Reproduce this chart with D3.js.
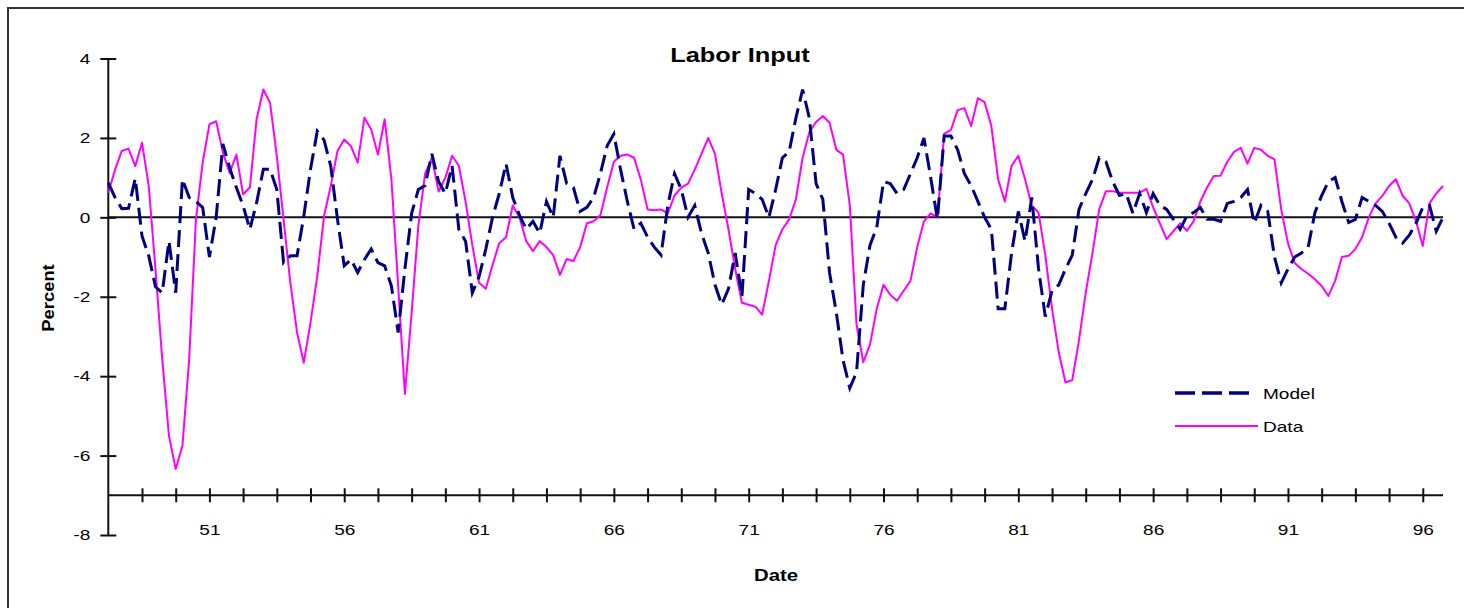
<!DOCTYPE html>
<html><head><meta charset="utf-8">
<script src="https://cdn.jsdelivr.net/npm/d3@7/dist/d3.min.js"></script>
<style>
body{margin:0;background:#fff}
svg{display:block}
text{font-family:"Liberation Sans",Arial,sans-serif;fill:#000}
</style>
</head><body>
<svg id="chart" width="1464" height="608"></svg>
<script>
// ---- data (quarterly, 1947Q2 .. 1996Q4) ----
const startYear = 1947, startQuarter = 2;
const modelValues = [
 0.87,0.5,0.22,0.23,0.98,-0.47,-0.97,-1.75,-1.9,-0.6,
 -1.9,0.96,0.5,0.4,0.25,-1.0,0.0,1.85,1.25,0.75,
 0.29,-0.3,0.37,1.21,1.21,0.7,-1.14,-0.97,-0.97,0.03,
 1.21,2.17,1.95,1.29,-0.05,-1.22,-1.06,-1.39,-1.06,-0.8,
 -1.14,-1.22,-1.73,-2.9,-1.3,0.1,0.7,0.8,1.6,0.9,
 0.6,1.3,-0.3,-0.6,-1.9,-1.5,-0.8,0.0,0.6,1.35,
 0.5,0.05,-0.3,-0.1,-0.4,0.4,0.0,1.55,0.85,0.75,
 0.15,0.25,0.5,1.1,1.8,2.1,1.2,0.4,-0.3,-0.15,
 -0.5,-0.75,-0.95,0.3,1.1,0.7,0.0,0.3,-0.4,-0.9,
 -1.7,-2.2,-1.8,-0.9,-2.0,0.7,0.6,0.45,0.0,0.7,
 1.5,1.65,2.5,3.22,2.5,0.85,0.45,-1.4,-2.4,-3.6,
 -4.3,-3.9,-1.7,-0.7,-0.25,0.9,0.85,0.6,0.7,1.1,
 1.5,2.0,1.0,-0.05,2.05,2.05,1.7,1.1,0.8,0.4,
 0.0,-0.3,-2.3,-2.3,-0.9,0.15,-0.6,0.5,-1.3,-2.5,
 -1.85,-1.7,-1.3,-0.95,0.2,0.6,0.95,1.5,1.4,0.9,
 0.55,0.6,0.1,0.6,0.12,0.6,0.3,0.2,-0.05,-0.3,
 0.03,0.12,0.25,-0.05,-0.05,-0.1,0.35,0.4,0.5,0.7,
 -0.15,0.3,0.15,-1.0,-1.65,-1.3,-1.0,-0.9,-0.75,0.12,
 0.55,0.9,1.0,0.4,-0.13,-0.05,0.5,0.4,0.3,0.15,
 -0.15,-0.5,-0.65,-0.45,-0.15,0.25,0.3,-0.35,0.0
];
const dataValues = [
 0.62,1.2,1.67,1.73,1.29,1.88,0.79,-1.31,-3.57,-5.5,
 -6.34,-5.75,-3.57,-0.05,1.38,2.34,2.42,1.63,1.12,1.58,
 0.58,0.75,2.47,3.22,2.88,1.54,-0.05,-1.64,-2.9,-3.66,
 -2.65,-1.48,0.03,0.79,1.67,1.96,1.79,1.38,2.51,2.21,
 1.58,2.47,0.96,-1.73,-4.45,-2.4,-0.2,1.1,1.5,0.65,
 1.0,1.55,1.3,0.4,-0.7,-1.65,-1.8,-1.2,-0.65,-0.5,
 0.3,0.0,-0.6,-0.85,-0.6,-0.75,-0.95,-1.45,-1.05,-1.1,
 -0.75,-0.15,-0.1,0.05,0.75,1.4,1.55,1.58,1.5,0.95,
 0.2,0.18,0.2,0.1,0.55,0.75,0.85,1.2,1.6,2.0,
 1.6,0.6,-0.3,-1.3,-2.15,-2.2,-2.25,-2.45,-1.6,-0.7,
 -0.3,-0.05,0.45,1.5,2.15,2.4,2.55,2.38,1.7,1.58,
 0.3,-2.7,-3.65,-3.2,-2.3,-1.7,-1.95,-2.1,-1.85,-1.6,
 -0.75,-0.1,0.1,0.0,2.1,2.2,2.7,2.75,2.3,3.0,
 2.9,2.3,0.96,0.4,1.3,1.55,0.96,0.29,0.12,-0.95,
 -2.3,-3.4,-4.16,-4.1,-3.1,-1.9,-0.9,0.2,0.66,0.66,
 0.62,0.62,0.62,0.62,0.72,0.25,-0.15,-0.55,-0.35,-0.15,
 -0.34,-0.1,0.4,0.75,1.04,1.05,1.4,1.65,1.75,1.35,
 1.75,1.7,1.55,1.46,0.2,-0.65,-1.15,-1.3,-1.42,-1.56,
 -1.73,-1.98,-1.6,-1.0,-0.97,-0.8,-0.5,0.0,0.35,0.54,
 0.79,0.96,0.55,0.35,-0.1,-0.72,0.35,0.6,0.79
];
const categories = modelValues.map((_, i) => {
  const q = startQuarter - 1 + i;
  return String((startYear + Math.floor(q / 4)) % 100) + "Q" + (q % 4 + 1);
});
const xTickLabels = ["51","56","61","66","71","76","81","86","91","96"];
const yTickValues = [-8,-6,-4,-2,0,2,4];
const seriesNames = ["Model","Data"];

// ---- layout ----
const svg = d3.select("#chart");
const SX = 1.27; // horizontal stretch of the original picture
const x = d3.scaleLinear().domain([0, categories.length - 1]).range([108.3, 1443]);
const y = d3.scaleLinear().domain([-8, 4]).range([535, 58.5]);
const stretch = (sel, k) => sel.each(function(){
  const l = this.getComputedTextLength();
  this.setAttribute("textLength", l * k);
  this.setAttribute("lengthAdjust", "spacingAndGlyphs");
});

// frame
svg.append("path").attr("d","M8,612V8H1470").attr("fill","none")
  .attr("stroke","#333").attr("stroke-width",2);

// title
svg.append("text").attr("x",740).attr("y",62).attr("text-anchor","middle")
  .style("font-weight","bold").style("font-size","20px").text("Labor Input").call(stretch, SX);

// y axis
const yAxisG = svg.append("g").attr("transform",`translate(${x(0)},0)`)
  .call(d3.axisLeft(y).tickValues(yTickValues).tickSize(8).tickPadding(10).tickFormat(d3.format("d")));
yAxisG.select(".domain").attr("stroke","#111").attr("stroke-width",2).attr("d",`M0,${y(-8)}V${y(4)}`);
yAxisG.selectAll(".tick line").attr("x1",8).attr("stroke","#111").attr("stroke-width",2);
yAxisG.selectAll(".tick text").style("font-size","15px").attr("fill","#000").text(d => d < 0 ? "-" + (-d) : d).call(stretch, SX);

// x axis crossing at -7
const xTicks = d3.range(5, categories.length, 5);
const xAxisG = svg.append("g").attr("transform",`translate(0,${y(-7)})`)
  .call(d3.axisBottom(x).tickValues(xTicks).tickSize(7).tickPadding(22)
    .tickFormat(i => (i - 15) % 20 === 0 ? xTickLabels[(i - 15) / 20] : ""));
xAxisG.select(".domain").attr("stroke","#111").attr("stroke-width",2).attr("d",`M${x(0)},0H${x(categories.length-1)}`);
xAxisG.selectAll(".tick line").attr("y1",-7).attr("stroke","#111").attr("stroke-width",2);
xAxisG.selectAll(".tick text").style("font-size","15px").attr("fill","#000").call(stretch, SX);

// zero line
svg.append("line").attr("x1",x(0)).attr("x2",x(categories.length-1))
  .attr("y1",y(0)).attr("y2",y(0)).attr("stroke","#111").attr("stroke-width",2);

// axis titles
svg.append("text").attr("transform",`translate(54,298) rotate(-90)`).attr("text-anchor","middle")
  .style("font-weight","bold").style("font-size","16px").text("Percent").call(stretch, 1.15);
svg.append("text").attr("x",776).attr("y",581).attr("text-anchor","middle")
  .style("font-weight","bold").style("font-size","16px").text("Date").call(stretch, SX);

// series
const line = d3.line().x((d, i) => x(i)).y(d => y(d));
svg.append("path").datum(dataValues).attr("d", line).attr("fill","none")
  .attr("stroke","#FF00FF").attr("stroke-width",2).attr("stroke-linejoin","round");
svg.append("path").datum(modelValues).attr("d", line).attr("fill","none")
  .attr("stroke","#000080").attr("stroke-width",3).attr("stroke-dasharray","17,7");

// legend
const leg = [
  {name: seriesNames[0], y: 393, stroke:"#000080", w:3.5, dash:"20,7", x2:1250},
  {name: seriesNames[1], y: 426, stroke:"#FF00FF", w:2, dash:null, x2:1258}
];
leg.forEach(l => {
  svg.append("line").attr("x1",1175).attr("x2",l.x2).attr("y1",l.y).attr("y2",l.y)
    .attr("stroke",l.stroke).attr("stroke-width",l.w).attr("stroke-dasharray",l.dash);
  svg.append("text").attr("x",1263).attr("y",l.y+5.5).style("font-size","15px").text(l.name).call(stretch, SX);
});
</script>
</body></html>
